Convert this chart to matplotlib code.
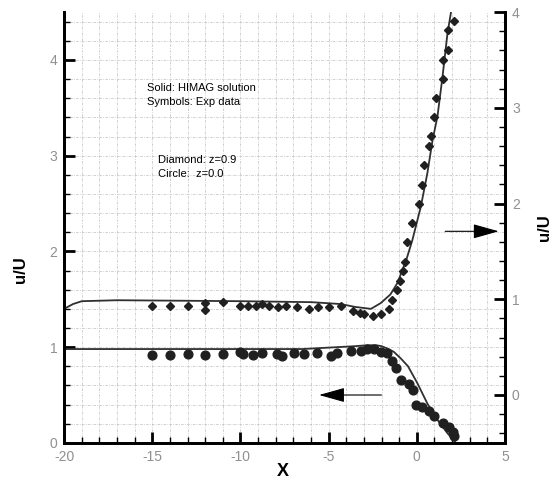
import numpy as np
import matplotlib
matplotlib.use("Agg")
import matplotlib.pyplot as plt
from matplotlib.ticker import MultipleLocator

plt.rcParams['font.family'] = ['Liberation Sans', 'DejaVu Sans']
plt.rcParams['axes.unicode_minus'] = False

# z=0.9 (diamonds), read against the right axis
dia_x = [-15, -14, -13, -12, -12, -11, -10, -9.6, -9.1, -8.8, -8.4, -7.9, -7.4,
         -6.8, -6.1, -5.6, -5.0, -4.3, -3.6, -3.2, -3.0, -2.5, -2.05, -1.6, -1.4,
         -1.15, -0.93, -0.81, -0.66, -0.53, -0.25, 0.13, 0.32, 0.41, 0.70, 0.80,
         0.95, 1.06, 1.48, 1.48, 1.78, 1.78, 2.12]
dia_y = [0.93, 0.93, 0.93, 0.96, 0.89, 0.97, 0.93, 0.93, 0.93, 0.95, 0.93, 0.92, 0.93,
         0.92, 0.90, 0.92, 0.92, 0.93, 0.88, 0.86, 0.85, 0.83, 0.85, 0.90, 0.99,
         1.10, 1.19, 1.30, 1.39, 1.60, 1.80, 2.00, 2.19, 2.40, 2.60, 2.71,
         2.90, 3.10, 3.30, 3.50, 3.60, 3.81, 3.91]
dia_line_x = [-20, -19.5, -19, -17, -10, -6, -4.3, -3.5, -2.6, -2.05, -1.5, -1.1,
              -0.6, -0.25, 0.23, 0.6, 0.89, 1.17, 1.46, 1.74, 1.93, 2.05]
dia_line_y = [0.90, 0.95, 0.98, 0.99, 0.98, 0.97, 0.95, 0.92, 0.90, 0.96, 1.05, 1.17,
              1.41, 1.62, 1.97, 2.32, 2.66, 2.91, 3.33, 3.78, 3.99, 4.15]

# z=0.0 (circles), read against the left axis
cir_x = [-15, -14, -13, -12, -11, -10, -9.85, -9.3, -8.77, -7.92, -7.63, -6.97,
         -6.4, -5.66, -4.87, -4.55, -3.75, -3.18, -2.8, -2.42, -2.05, -1.67, -1.38,
         -1.19, -0.91, -0.44, -0.2, -0.06, 0.32, 0.70, 0.98, 1.46, 1.84, 2.03, 2.12]
cir_y = [0.92, 0.92, 0.93, 0.92, 0.93, 0.95, 0.93, 0.92, 0.94, 0.93, 0.91, 0.94,
         0.93, 0.94, 0.91, 0.94, 0.96, 0.96, 0.98, 0.98, 0.95, 0.94, 0.85,
         0.78, 0.66, 0.61, 0.55, 0.40, 0.37, 0.33, 0.28, 0.21, 0.17, 0.11, 0.07]
cir_line_x = [-20, -10, -6.5, -4.5, -3.5, -2.8, -2.3, -2.0, -1.6, -1.3, -0.9, -0.5,
              0.04, 0.6, 1.17, 1.74, 2.22]
cir_line_y = [0.98, 0.98, 0.98, 1.00, 1.01, 1.02, 1.02, 1.01, 0.98, 0.95, 0.88, 0.80,
              0.62, 0.41, 0.24, 0.10, 0.0]

fig = plt.figure(figsize=(5.58, 4.84), dpi=100)
ax1 = fig.add_axes([0.115, 0.085, 0.79, 0.89])
ax2 = ax1.twinx()

grid_style = dict(color='#c8c8c8', lw=0.6, ls=(0, (3, 1.5, 1, 1.5)))
for gx in np.arange(-19, 5, 1):
    ax1.axvline(gx, zorder=0, **grid_style)
for gy in np.arange(0.2, 4.5, 0.2):
    ax1.axhline(gy, zorder=0, **grid_style)

ax1.plot(cir_line_x, cir_line_y, color='#303030', lw=1.3)
ax1.plot(cir_x, cir_y, 'o', color='#202020', ms=6.3)
ax2.plot(dia_line_x, dia_line_y, color='#303030', lw=1.3)
ax2.plot(dia_x, dia_y, 'D', color='#202020', ms=4.5)

ax1.set_xlim(-20, 5)
ax1.set_ylim(0, 4.5)
ax2.set_ylim(-0.5, 4)

ax1.xaxis.set_major_locator(MultipleLocator(5))
ax1.xaxis.set_minor_locator(MultipleLocator(1))
ax1.yaxis.set_major_locator(MultipleLocator(1))
ax1.yaxis.set_minor_locator(MultipleLocator(0.2))
ax2.yaxis.set_major_locator(MultipleLocator(1))
ax2.yaxis.set_minor_locator(MultipleLocator(0.2))

for ax in (ax1, ax2):
    ax.tick_params(which='major', direction='in', length=8, width=2, labelsize=10,
                   labelcolor='#909090', pad=5)
    ax.tick_params(which='minor', direction='in', length=4, width=1)
    ax.spines['top'].set_visible(False)
    for s in ('left', 'bottom', 'right'):
        ax.spines[s].set_linewidth(2)
ax1.tick_params(axis='x', which='minor', top=False)
ax1.tick_params(axis='x', top=False)

# annotation arrows
ax1.annotate('', xy=(-5.7, 0.5), xytext=(-1.85, 0.5),
             arrowprops=dict(arrowstyle='-|>,head_length=1.6,head_width=0.45',
                             color='black', lw=0.8))
ax2.annotate('', xy=(4.8, 1.71), xytext=(1.45, 1.71),
             arrowprops=dict(arrowstyle='-|>,head_length=1.6,head_width=0.45',
                             color='black', lw=0.8))

ax1.text(-15.3, 3.71, 'Solid: HIMAG solution', fontsize=8, va='center')
ax1.text(-15.3, 3.56, 'Symbols: Exp data', fontsize=8, va='center')
ax1.text(-14.7, 2.96, 'Diamond: z=0.9', fontsize=8, va='center')
ax1.text(-14.7, 2.81, 'Circle:  z=0.0', fontsize=8, va='center')

fig.text(283 / 558, 1 - 472 / 484, 'X', fontsize=13, fontweight='bold',
         ha='center', va='center')
fig.text(20 / 558, 1 - 270 / 484, 'u/U', fontsize=12, fontweight='bold',
         rotation=90, ha='center', va='center')
fig.text(545 / 558, 1 - 228 / 484, 'u/U', fontsize=12, fontweight='bold',
         rotation=90, ha='center', va='center')

fig.savefig('out.png', dpi=100)
